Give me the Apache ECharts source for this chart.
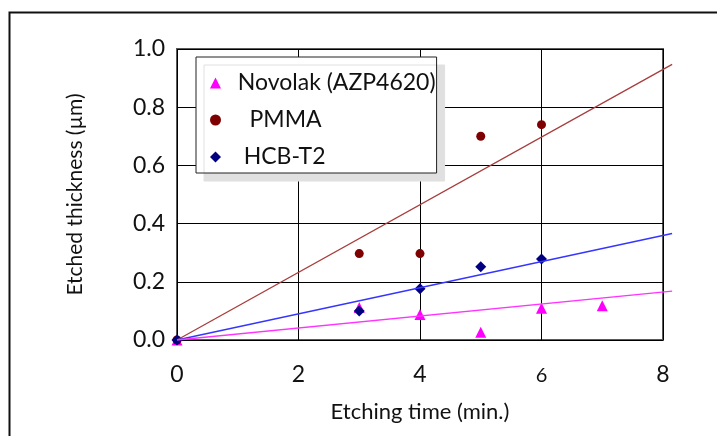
<!DOCTYPE html>
<html>
<head>
<meta charset="utf-8">
<script src="https://cdn.jsdelivr.net/npm/echarts@6/dist/echarts.min.js"></script>
<style>
html, body { margin: 0; padding: 0; background: #fff; }
#container { width: 717px; height: 436px; }
</style>
</head>
<body>
<div id="container"></div>
<script>
// 数据
var novolakX = [0, 3, 4, 5, 6, 7];
var novolakY = [0, 0.112, 0.088, 0.027, 0.109, 0.118];
var pmmaX = [0, 3, 4, 5, 6];
var pmmaY = [0, 0.297, 0.297, 0.700, 0.740];
var hcbX = [0, 3, 4, 5, 6];
var hcbY = [0, 0.100, 0.176, 0.252, 0.278];
// 趋势线 (两端点, 画到 x 轴末端之外一点)
var trendX = [0, 8.15];
var novolakTrend = [0, 0.168];
var pmmaTrend = [0, 0.947];
var hcbTrend = [0, 0.366];
var xTicks = [0, 2, 4, 6, 8];
var yTicks = [0, 0.2, 0.4, 0.6, 0.8, 1.0];

function pairs(xs, ys){
	var out = [];
	for(var i = 0; i < xs.length; i++){
		out.push([xs[i], ys[i]]);
	}
	return out;
}

var font = 'Lato, "Open Sans", sans-serif';
var pxPerX = (717 - 177 - 54) / 8;
var dom = document.getElementById("container");
var myChart = echarts.init(dom);
var option = {
	animation: false,
	backgroundColor: '#fff',
	textStyle: { fontFamily: font },
	grid: [
		{ left: 177, top: 49, right: 54, bottom: 96, show: true, borderColor: '#595959', borderWidth: 2 },
		// 趋势线用的第二个坐标系, 比例一样, 向右多出一点
		{ left: 177, top: 49, right: 54 - (trendX[1] - 8) * pxPerX, bottom: 96, show: false }
	],
	legend: {
		orient: 'vertical',
		left: 196, top: 57,
		padding: [14, 1, 4, 14],
		itemGap: 13,
		itemWidth: 11, itemHeight: 11,
		backgroundColor: '#fff',
		borderColor: '#222', borderWidth: 1,
		shadowColor: '#e0e0e0', shadowBlur: 0, shadowOffsetX: 8, shadowOffsetY: 8,
		data: ['Novolak (AZP4620)', 'PMMA', 'HCB-T2'],
		formatter: function(name){
			if(name == 'PMMA') return '    PMMA';
			if(name == 'HCB-T2') return '   HCB-T2';
			return '  ' + name;
		},
		textStyle: { fontSize: 23, lineHeight: 24, color: '#111', fontFamily: font }
	},
	xAxis: [
		{
			type: 'value', min: 0, max: 8, interval: 2, gridIndex: 0,
			name: 'Etching time (min.)', nameLocation: 'middle', nameGap: 61,
			nameTextStyle: { fontSize: 22, color: '#111' },
			axisLine: { show: false },
			axisTick: { show: false },
			axisLabel: {
				fontSize: 23, color: '#111', margin: 23,
				formatter: function(v){
					return v == 6 ? '{s|6}' : String(v);
				},
				rich: { s: { fontSize: 20, color: '#111', padding: [3, 0, 0, 0] } }
			},
			splitLine: { lineStyle: { color: '#000', width: 1 } }
		},
		{ type: 'value', min: 0, max: trendX[1], gridIndex: 1, show: false }
	],
	yAxis: [
		{
			type: 'value', min: 0, max: 1, interval: 0.2, gridIndex: 0,
			name: 'Etched thickness (µm)', nameLocation: 'middle', nameGap: 91,
			nameTextStyle: { fontSize: 21, color: '#111' },
			axisLine: { show: false },
			axisTick: { show: false },
			axisLabel: {
				fontSize: 23, color: '#111', margin: 12,
				formatter: function(v){ return v.toFixed(1); }
			},
			splitLine: { lineStyle: { color: '#000', width: 1 } }
		},
		{ type: 'value', min: 0, max: 1, gridIndex: 1, show: false }
	],
	series: [
		{
			name: 'PMMA trend', type: 'line', xAxisIndex: 1, yAxisIndex: 1, symbol: 'none', silent: true,
			lineStyle: { color: '#a83c3c', width: 1.3 },
			data: pairs(trendX, pmmaTrend)
		},
		{
			name: 'HCB trend', type: 'line', xAxisIndex: 1, yAxisIndex: 1, symbol: 'none', silent: true,
			lineStyle: { color: '#3535ff', width: 1.3 },
			data: pairs(trendX, hcbTrend)
		},
		{
			name: 'Novolak trend', type: 'line', xAxisIndex: 1, yAxisIndex: 1, symbol: 'none', silent: true,
			lineStyle: { color: '#ff33ff', width: 1.3 },
			data: pairs(trendX, novolakTrend)
		},
		{
			name: 'Novolak (AZP4620)', type: 'scatter', symbol: 'triangle', symbolSize: 11,
			itemStyle: { color: '#ff00ff', opacity: 1 },
			data: pairs(novolakX, novolakY)
		},
		{
			name: 'PMMA', type: 'scatter', symbol: 'circle', symbolSize: 9,
			itemStyle: { color: '#7f0000', opacity: 1 },
			data: pairs(pmmaX, pmmaY)
		},
		{
			name: 'HCB-T2', type: 'scatter', symbol: 'diamond', symbolSize: 11,
			itemStyle: { color: '#000080', opacity: 1 },
			data: pairs(hcbX, hcbY)
		}
	],
	graphic: [
		{
			type: 'rect', silent: true, z: 100,
			shape: { x: 9.5, y: 12.5, width: 740, height: 460 },
			style: { fill: 'none', stroke: '#111', lineWidth: 2 }
		}
	]
};
myChart.setOption(option, true);
</script>
</body>
</html>
